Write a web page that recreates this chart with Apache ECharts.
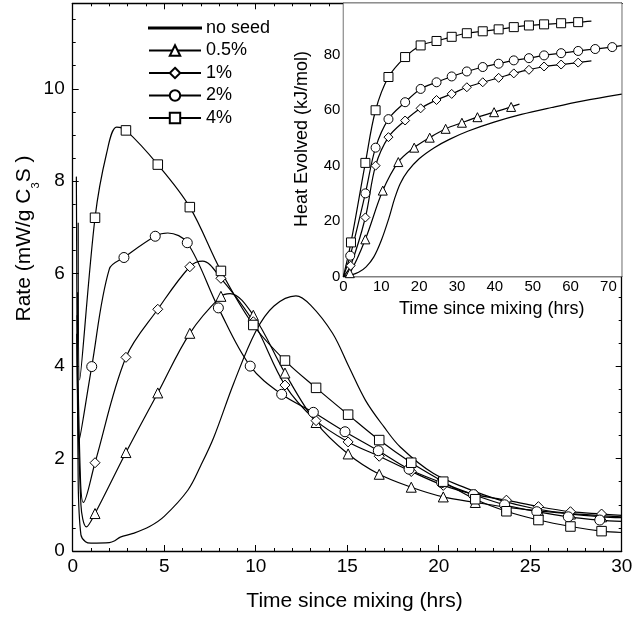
<!DOCTYPE html>
<html><head><meta charset="utf-8">
<script src="https://cdn.jsdelivr.net/npm/echarts@6/dist/echarts.min.js"></script>
<style>html,body{margin:0;padding:0;background:#fff}#c{width:637px;height:619px}</style>
</head><body><div id="c"></div>
<script>
// ---------- data: main panel (rate, mW/g C3S vs hours) ----------
const seriesNames = ['no seed', '0.5%', '1%', '2%', '4%'];
const markerHours = [1.22, 2.91, 4.65, 6.4, 8.1, 9.87, 11.6, 13.3, 15.05, 16.75, 18.5, 20.25, 22.0, 23.7, 25.45, 27.2, 28.9];
const circleHours = [1.04, 2.8, 4.51, 6.26, 7.96, 9.7, 11.42, 13.15, 14.88, 16.7, 18.38, 20.16, 21.9, 23.6, 25.36, 27.08, 28.8];
const rate4 = [7.21, 9.1, 8.36, 7.44, 6.06, 4.89, 4.12, 3.53, 2.95, 2.40, 1.91, 1.50, 1.12, 0.86, 0.67, 0.53, 0.43];
const rate2 = [3.99, 6.35, 6.81, 6.67, 5.26, 4.0, 3.39, 3.0, 2.58, 2.17, 1.77, 1.48, 1.22, 1.0, 0.85, 0.74, 0.67];
const rate1 = [1.91, 4.19, 5.23, 6.15, 5.9, 4.96, 3.59, 2.82, 2.36, 2.05, 1.72, 1.42, 1.22, 1.1, 0.96, 0.85, 0.8];
const rate05 = [0.81, 2.13, 3.42, 4.71, 5.51, 5.1, 3.85, 2.78, 2.1, 1.66, 1.38, 1.17, 1.05, 0.95, 0.87, 0.8, 0.74];
// curve points between markers (no symbol)
const curve4 = [[0.3, 7.1], [0.38, 3.7], [1.85, 8.6], [2.4, 9.17], [30, 0.40]];
const curve2 = [[0.27, 5.6], [0.36, 2.4], [2.0, 6.1], [5.2, 6.88], [30, 0.64]];
const curve1 = [[0.24, 5.1], [0.42, 1.6], [0.58, 1.05], [7.1, 6.27], [30, 0.77]];
const curve05 = [[0.22, 4.7], [0.45, 1.0], [0.75, 0.52], [8.6, 5.57], [30, 0.72]];
const noSeedRate = [[0.2, 8.1], [0.3, 1.5], [0.45, 0.35], [0.7, 0.2], [1.0, 0.17], [2.0, 0.18], [2.3, 0.22], [2.6, 0.3], [3.3, 0.38], [4.2, 0.53], [5.0, 0.75], [6.3, 1.32], [7.0, 1.85], [7.7, 2.45], [8.8, 3.63], [10.0, 4.75], [11.0, 5.3], [12.2, 5.52], [13.0, 5.32], [14.2, 4.71], [15.1, 3.98], [16.0, 3.26], [17.0, 2.69], [17.9, 2.25], [19.7, 1.68], [21.5, 1.36], [23.35, 1.1], [25.2, 0.92], [27.0, 0.82], [30, 0.74]];

// ---------- data: inset (heat evolved, kJ/mol vs hours) ----------
const heatHours4 = [2.0, 5.8, 8.5, 11.9, 16.3, 20.4, 24.6, 28.6, 32.6, 36.8, 41, 45, 49, 53, 57.5, 62];
const heat4 = [12.3, 41, 60, 72, 79.2, 83.4, 85, 86.5, 87.8, 88.5, 89.2, 90, 90.6, 91, 91.4, 91.8];
const heatHours2 = [1.8, 5.8, 8.5, 11.9, 16.3, 20.4, 24.6, 28.6, 32.6, 36.8, 41, 45, 49, 53, 57.5, 62, 66.5, 71];
const heat2 = [7.5, 30, 46.5, 56.8, 62.9, 67.7, 70.1, 72.2, 74, 75.6, 76.8, 78, 78.8, 79.8, 80.6, 81.4, 82.1, 82.8];
const heatHours1 = [1.9, 5.8, 8.5, 11.9, 16.3, 20.4, 24.6, 28.6, 32.6, 36.8, 41, 45, 49, 53, 57.5, 62];
const heat1 = [3.9, 21.3, 40, 50.3, 56.3, 60.7, 63.7, 65.9, 68.3, 70.1, 71.7, 73.3, 74.6, 75.8, 76.5, 77.2];
const heatHours05 = [1.7, 5.8, 10.4, 14.5, 18.7, 22.8, 27, 31.3, 35.4, 39.8, 44.3];
const heat05 = [1.2, 13.4, 31, 41.3, 46.5, 50.1, 53.3, 55.5, 57.5, 59.3, 61.2];
const heatEnds4 = [[0, 0], [65.5, 92.2]];
const heatEnds2 = [[0, 0], [73.5, 83.3]];
const heatEnds1 = [[0, 0], [65.5, 77.8]];
const heatEnds05 = [[0, 0], [46.5, 62.2]];
const heatNoSeed = [[0, 0], [2, 0.5], [4, 1.5], [6, 3.5], [8, 7], [10, 13], [12, 21], [13.5, 28], [15, 33.5], [17, 38], [20, 42.5], [24, 46.5], [28, 49.5], [33, 52.5], [40, 55.8], [47, 58.5], [55, 61], [63, 63.3], [73.5, 65.8]];

// ---------- build ----------
const FONT = '"Liberation Sans", Arial, sans-serif';
function build(hours, vals, extras) {
  const pts = hours.map((h, i) => ({ value: [h, vals[i]] }));
  extras.forEach(p => pts.push({ value: p, symbol: 'none' }));
  pts.sort((a, b) => a.value[0] - b.value[0]);
  return pts;
}
const lineStyle = { color: '#000', width: 1.2 };
const itemStyle = { color: '#fff', borderColor: '#000', borderWidth: 1 };
function mk(name, data, symbol, size, xi, yi) {
  return {
    name, type: 'line', data, xAxisIndex: xi, yAxisIndex: yi,
    symbol, symbolSize: size, showAllSymbol: true,
    smooth: 0.35,
    lineStyle, itemStyle, emphasis: { disabled: true }, z: 3
  };
}
function axis(grid, pos, min, max, interval, split, fs, margin, showLabel, mod) {
  return {
    type: 'value', gridIndex: grid, position: pos, min, max, interval,
    axisLine: { show: true, onZero: false, lineStyle: { color: '#000', width: 1.3 } },
    axisTick: { show: true, inside: true, length: 6, lineStyle: { color: '#000', width: 1 } },
    minorTick: { show: true, splitNumber: split, length: 3, lineStyle: { color: '#000', width: 1 } },
    splitLine: { show: false },
    axisLabel: { show: showLabel, fontSize: fs, color: '#000', fontFamily: FONT, margin,
      formatter: v => (Math.abs(v % mod) < 1e-9 ? String(v) : '') }
  };
}

const chart = echarts.init(document.getElementById('c'));
chart.setOption({
  animation: false,
  backgroundColor: '#fff',
  grid: [
    { left: 72.7, right: 15.3, top: 3.3, bottom: 68 },
    { left: 343.4, right: 15.3, top: 3.3, bottom: 342.5, show: true, backgroundColor: '#fff', borderWidth: 0, z: 1 }
  ],
  xAxis: [
    axis(0, 'bottom', 0, 30, 5, 5, 19, 6, true, 5),
    axis(0, 'top', 0, 30, 5, 5, 19, 6, false, 5),
    axis(1, 'bottom', 0, 73.5, 10, 5, 15, 3, true, 10),
    axis(1, 'top', 0, 73.5, 10, 5, 15, 3, false, 10)
  ],
  yAxis: [
    axis(0, 'left', 0, 11.85, 2, 4, 19, 8, true, 2),
    axis(0, 'right', 0, 11.85, 2, 4, 19, 8, false, 2),
    axis(1, 'left', 0, 98.6, 20, 4, 15, 3, true, 20),
    axis(1, 'right', 0, 98.6, 20, 4, 15, 3, false, 20)
  ],
  legend: {
    data: [{ name: 'no seed', icon: 'path://M0,0L60,0L60,1.1L0,1.1Z' }, '0.5%', '1%', '2%', '4%'],
    orient: 'vertical', left: 143, top: 14, itemWidth: 52, itemHeight: 13, itemGap: 4.5,
    selectedMode: false,
    textStyle: { fontSize: 18, color: '#000', fontFamily: FONT, lineHeight: 18 }
  },
  series: [
    mk('no seed', noSeedRate.map(p => ({ value: p })), 'none', 0, 0, 0),
    mk('0.5%', build(markerHours, rate05, curve05), 'triangle', 10, 0, 0),
    mk('1%', build(markerHours, rate1, curve1), 'diamond', 10, 0, 0),
    mk('2%', build(circleHours, rate2, curve2), 'circle', 10, 0, 0),
    mk('4%', build(markerHours, rate4, curve4), 'rect', 9.5, 0, 0),
    mk('inset no seed', heatNoSeed.map(p => ({ value: p })), 'none', 0, 2, 2),
    mk('inset 0.5%', build(heatHours05, heat05, heatEnds05), 'triangle', 9, 2, 2),
    mk('inset 1%', build(heatHours1, heat1, heatEnds1), 'diamond', 9, 2, 2),
    mk('inset 2%', build(heatHours2, heat2, heatEnds2), 'circle', 9, 2, 2),
    mk('inset 4%', build(heatHours4, heat4, heatEnds4), 'rect', 9, 2, 2)
  ],
  graphic: [
    { type: 'text', x: 354.5, y: 601.7, z: 10,
      style: { text: 'Time since mixing (hrs)', font: '21px ' + FONT, fill: '#000', align: 'center', verticalAlign: 'middle', textAlign: 'center', textVerticalAlign: 'middle' } },
    { type: 'text', x: 24, y: 238.5, rotation: Math.PI / 2, z: 10,
      style: { text: 'Rate (mW/g C{s|3}S )', font: '21px ' + FONT, fill: '#000', align: 'center', verticalAlign: 'middle', textAlign: 'center', textVerticalAlign: 'middle',
        rich: { s: { fontSize: 11, fontFamily: FONT, fill: '#000', padding: [24, 0, 0, 0] } } } },
    { type: 'text', x: 491.7, y: 309.5, z: 10,
      style: { text: 'Time since mixing (hrs)', font: '18px ' + FONT, fill: '#000', align: 'center', verticalAlign: 'middle', textAlign: 'center', textVerticalAlign: 'middle' } },
    { type: 'text', x: 302, y: 139, rotation: Math.PI / 2, z: 10,
      style: { text: 'Heat Evolved (kJ/mol)', font: '18px ' + FONT, fill: '#000', align: 'center', verticalAlign: 'middle', textAlign: 'center', textVerticalAlign: 'middle' } }
  ]
});
</script></body></html>
